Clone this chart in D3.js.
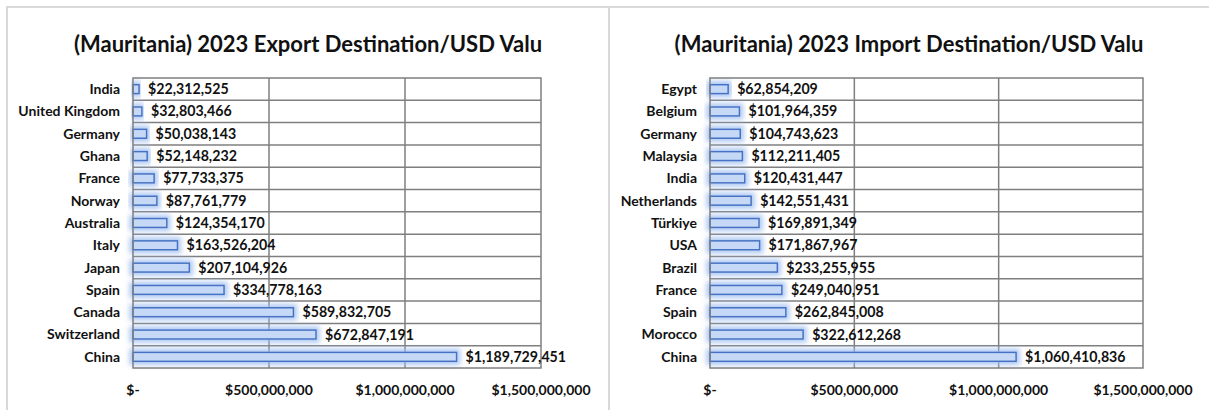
<!DOCTYPE html>
<html>
<head>
<meta charset="utf-8">
<script src="https://cdn.jsdelivr.net/npm/d3@7"></script>
<style>
  body { margin: 0; background: #fff; }
  svg { display: block; font-family: Lato, "Open Sans", sans-serif; }
  .title { font-size: 22px; font-weight: bold; fill: #111; }
  .cat { font-size: 14px; font-weight: bold; fill: #111; }
  .val { font-size: 14.2px; font-weight: bold; fill: #111; }
  .tick-label { font-size: 14px; font-weight: bold; fill: #111; }
</style>
</head>
<body>
<svg width="1209" height="410"></svg>
<script>
// export chart
var exportTitle = "(Mauritania) 2023 Export Destination/USD Valu";
var exportCountries = ["India", "United Kingdom", "Germany", "Ghana", "France", "Norway", "Australia", "Italy", "Japan", "Spain", "Canada", "Switzerland", "China"];
var exportValues = [22312525, 32803466, 50038143, 52148232, 77733375, 87761779, 124354170, 163526204, 207104926, 334778163, 589832705, 672847191, 1189729451];

// import chart
var importTitle = "(Mauritania) 2023 Import Destination/USD Valu";
var importCountries = ["Egypt", "Belgium", "Germany", "Malaysia", "India", "Netherlands", "Türkiye", "USA", "Brazil", "France", "Spain", "Morocco", "China"];
var importValues = [62854209, 101964359, 104743623, 112211405, 120431447, 142551431, 169891349, 171867967, 233255955, 249040951, 262845008, 322612268, 1060410836];

var tickValues = [0, 500000000, 1000000000, 1500000000];
var tickLabels = ["$-", "$500,000,000", "$1,000,000,000", "$1,500,000,000"];

var svg = d3.select("svg");

var defs = svg.append("defs");
var glow = defs.append("filter").attr("id", "glow")
  .attr("x", "-20%").attr("y", "-150%").attr("width", "140%").attr("height", "400%");
glow.append("feMorphology").attr("in", "SourceAlpha").attr("operator", "dilate").attr("radius", 2.5).attr("result", "dil");
glow.append("feGaussianBlur").attr("in", "dil").attr("stdDeviation", 2.5).attr("result", "blur");
glow.append("feFlood").attr("flood-color", "#9dbdf0").attr("flood-opacity", 0.8);
glow.append("feComposite").attr("in2", "blur").attr("operator", "in").attr("result", "glowc");
var merge = glow.append("feMerge");
merge.append("feMergeNode").attr("in", "glowc");
merge.append("feMergeNode").attr("in", "SourceGraphic");

// panel frame lines
svg.append("line").attr("x1", 7).attr("x2", 1209).attr("y1", 7).attr("y2", 7)
  .attr("stroke", "#d9d9d9").attr("stroke-width", 2);
svg.append("line").attr("x1", 7).attr("x2", 7).attr("y1", 6).attr("y2", 410)
  .attr("stroke", "#d9d9d9").attr("stroke-width", 2);
svg.append("line").attr("x1", 609).attr("x2", 609).attr("y1", 6).attr("y2", 410)
  .attr("stroke", "#d9d9d9").attr("stroke-width", 2);

var fmt = d3.format(",");

function drawChart(title, cats, vals, panelLeft, panelRight, plotLeft, plotRight) {
  var g = svg.append("g");
  var top = 78, bottom = 368;

  var x = d3.scaleLinear().domain([0, 1500000000]).range([plotLeft, plotRight]);
  var y = d3.scaleBand().domain(cats).range([top, bottom]).paddingInner(0.6).paddingOuter(0.3);
  var step = (bottom - top) / cats.length;

  g.append("text").attr("class", "title")
    .attr("x", (panelLeft + panelRight) / 2).attr("y", 52)
    .attr("text-anchor", "middle").text(title);

  // vertical gridlines
  g.selectAll(".vgrid").data(tickValues.slice(1, 3)).enter().append("line")
    .attr("x1", function(d) { return x(d); }).attr("x2", function(d) { return x(d); })
    .attr("y1", top).attr("y2", bottom)
    .attr("stroke", "#7f7f7f").attr("stroke-width", 1.5);

  // horizontal lines between categories
  g.selectAll(".hgrid").data(d3.range(1, cats.length)).enter().append("line")
    .attr("x1", plotLeft).attr("x2", plotRight)
    .attr("y1", function(i) { return top + i * step; }).attr("y2", function(i) { return top + i * step; })
    .attr("stroke", "#7f7f7f").attr("stroke-width", 1.5);

  // bars
  g.selectAll(".bar").data(vals).enter().append("rect")
    .attr("x", x(0))
    .attr("y", function(d, i) { return y(cats[i]); })
    .attr("width", function(d) { return x(d) - x(0); })
    .attr("height", y.bandwidth())
    .attr("fill", "#c5d8f6")
    .attr("stroke", "#4472c4").attr("stroke-width", 1.5)
    .attr("filter", "url(#glow)");

  // plot border
  g.append("rect").attr("x", plotLeft).attr("y", top)
    .attr("width", plotRight - plotLeft).attr("height", bottom - top)
    .attr("fill", "none").attr("stroke", "#7f7f7f").attr("stroke-width", 1.5);

  // value labels
  g.selectAll(".val").data(vals).enter().append("text").attr("class", "val")
    .attr("x", function(d) { return x(d) + 9; })
    .attr("y", function(d, i) { return y(cats[i]) + y.bandwidth() / 2; })
    .attr("dy", "0.35em")
    .text(function(d) { return "$" + fmt(d); });

  // category labels
  g.selectAll(".cat").data(cats).enter().append("text").attr("class", "cat")
    .attr("x", plotLeft - 13)
    .attr("y", function(d) { return y(d) + y.bandwidth() / 2; })
    .attr("dy", "0.35em").attr("text-anchor", "end")
    .text(function(d) { return d; });

  // x tick labels
  g.selectAll(".tick-label").data(tickValues).enter().append("text").attr("class", "tick-label")
    .attr("x", function(d) { return x(d); }).attr("y", 395)
    .attr("text-anchor", "middle")
    .text(function(d, i) { return tickLabels[i]; });
}

drawChart(exportTitle, exportCountries, exportValues, 7, 609, 133, 541);
drawChart(importTitle, importCountries, importValues, 609, 1209, 710, 1143);
</script>
</body>
</html>
